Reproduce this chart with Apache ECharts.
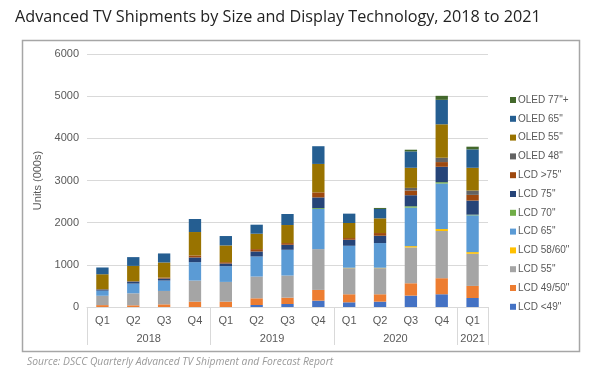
<!DOCTYPE html>
<html>
<head>
<meta charset="utf-8">
<script src="https://cdn.jsdelivr.net/npm/echarts@6/dist/echarts.min.js"></script>
<style>
html,body{margin:0;padding:0;background:#fff;}
#chart{width:600px;height:373px;}
</style>
</head>
<body>
<div id="chart"></div>
<script>
// ---- data ----
const quarters = ['Q1','Q2','Q3','Q4','Q1','Q2','Q3','Q4','Q1','Q2','Q3','Q4','Q1'];
const years = ['2018','2019','2020','2021'];
const quartersPerYear = [4,4,4,1];

const lcdLt49  = [0,0,0,0, 0,48,71,151, 111,127,270,302, 214];
const lcd4950  = [45,40,63,127, 127,158,151,254, 191,175,293,381, 286];
const lcd55    = [222,285,318,500, 468,516,524,968, 619,619,850,1119, 762];
const lcd5860  = [0,0,0,0, 0,0,0,0, 10,10,31,47, 40];
const lcd65    = [120,230,246,436, 373,476,611,952, 521,585,913,1080, 873];
const lcd70    = [0,0,0,0, 0,0,0,20, 0,0,32,31, 15];
const lcd75    = [30,50,48,112, 64,119,119,254, 143,174,262,365, 334];
const lcdGt75  = [5,5,23,47, 31,56,40,119, 40,64,111,112, 135];
const oled48   = [0,0,0,0, 0,0,0,0, 0,0,63,103, 103];
const oled55   = [355,365,358,556, 397,365,428,675, 357,349,477,793, 540];
const oled65   = [160,208,214,309, 223,214,262,420, 222,222,388,580, 436];
const oled77   = [0,0,0,0, 0,0,0,0, 0,24,40,95, 64];

const seriesNames = ['LCD <49"','LCD 49/50"','LCD 55"','LCD 58/60"','LCD 65"','LCD 70"','LCD 75"','LCD >75"','OLED 48"','OLED 55"','OLED 65"','OLED 77"+'];
const seriesValues = [lcdLt49,lcd4950,lcd55,lcd5860,lcd65,lcd70,lcd75,lcdGt75,oled48,oled55,oled65,oled77];
const seriesColors = ['#4472C4','#ED7D31','#A5A5A5','#FFC000','#5B9BD5','#70AD47','#264478','#9E480E','#636363','#997300','#255E91','#43682B'];
const yTicks = [0,1000,2000,3000,4000,5000,6000];

// year group boundaries and centers (in quarter units)
const yearBounds = [0];
quartersPerYear.forEach(n => yearBounds.push(yearBounds[yearBounds.length-1] + n));
const yearCenters = years.map((y,i) => (yearBounds[i] + yearBounds[i+1]) / 2);

const chart = echarts.init(document.getElementById('chart'), null, {renderer:'canvas'});
const axisGray = '#D9D9D9';
const textGray = '#595959';
const font = "'Liberation Sans', Arial, sans-serif";

const option = {
  animation: false,
  title: [
    {text: 'Advanced TV Shipments by Size and Display Technology, 2018 to 2021',
     left: 10, top: 4,
     textStyle: {fontFamily: "'Open Sans', sans-serif", fontSize: 16.2, fontWeight: 'normal', color: '#222'}},
    {text: 'Source: DSCC Quarterly Advanced TV Shipment and Forecast Report',
     left: 22, top: 352,
     textStyle: {fontFamily: "'Open Sans', sans-serif", fontSize: 10.3, fontStyle: 'italic', fontWeight: 'normal', color: '#9a9a9a'}}
  ],
  graphic: [{
    type: 'rect', z: -1, silent: true,
    shape: {x: 22.5, y: 40.5, width: 557, height: 311},
    style: {fill: 'none', stroke: '#a6a6a6', lineWidth: 1.5}
  }],
  legend: {
    orient: 'vertical', left: 505, top: 89,
    itemWidth: 6, itemHeight: 6, itemGap: 6.8,
    icon: 'rect',
    data: seriesNames.slice().reverse(),
    textStyle: {fontFamily: font, fontSize: 10, color: textGray, padding: [0,0,0,-3], lineHeight: 12}
  },
  grid: {left: 87, right: 112, top: 54, bottom: 66, containLabel: false},
  xAxis: [
    {type: 'category', data: quarters,
     axisLine: {lineStyle: {color: axisGray, width: 1}},
     axisTick: {show: false},
     axisLabel: {fontFamily: font, fontSize: 11, color: textGray, margin: 8}},
    {type: 'value', min: 0, max: quarters.length, position: 'bottom',
     axisLine: {show: false},
     splitLine: {show: false},
     axisTick: {show: true, length: 38, customValues: yearBounds, lineStyle: {color: axisGray}},
     axisLabel: {customValues: yearCenters, margin: 26, fontFamily: font, fontSize: 11, color: textGray,
       formatter: v => { const i = yearCenters.indexOf(v); return i >= 0 ? years[i] : ''; }}}
  ],
  yAxis: {
    type: 'value', min: yTicks[0], max: yTicks[yTicks.length-1], interval: 1000,
    name: 'Units (000s)', nameLocation: 'middle', nameGap: 37,
    nameTextStyle: {fontFamily: font, fontSize: 11, color: textGray},
    axisLine: {show: false}, axisTick: {show: false},
    axisLabel: {fontFamily: font, fontSize: 11, color: textGray, margin: 8, formatter: v => String(v)},
    splitLine: {lineStyle: {color: axisGray, width: 1}}
  },
  series: seriesNames.map((n,i) => ({
    name: n, type: 'bar', stack: 'total', xAxisIndex: 0,
    barWidth: '40%',
    itemStyle: {color: seriesColors[i]},
    data: seriesValues[i]
  }))
};
chart.setOption(option);
</script>
</body>
</html>
